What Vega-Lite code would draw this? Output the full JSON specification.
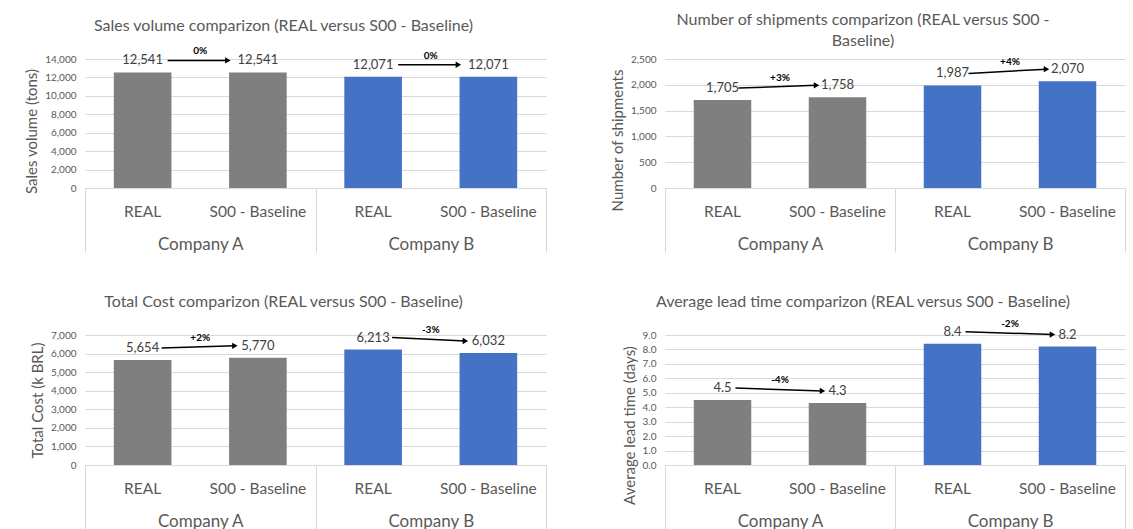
{
  "$schema": "https://vega.github.io/schema/vega-lite/v6.json",
  "background": "white",
  "padding": {"left": 24, "top": 12, "right": 0, "bottom": 0},
  "config": {
    "font": "Lato",
    "view": {"stroke": null},
    "title": {"fontSize": 16, "fontWeight": "normal", "color": "#595959", "anchor": "middle", "frame": "group", "dx": -32, "font": "Lato"},
    "axis": {"labelFont": "Lato", "titleFont": "Lato"},
    "axisY": {"titleFontSize": 15, "titleColor": "#595959", "titleFontWeight": "normal"}
  },
  "datasets": {
    "bars": [
      {"metric": "sales", "company": "Company A", "category": "REAL", "key": "Company A|REAL", "value": 12541},
      {"metric": "sales", "company": "Company A", "category": "S00 - Baseline", "key": "Company A|S00 - Baseline", "value": 12541},
      {"metric": "sales", "company": "Company B", "category": "REAL", "key": "Company B|REAL", "value": 12071},
      {"metric": "sales", "company": "Company B", "category": "S00 - Baseline", "key": "Company B|S00 - Baseline", "value": 12071},
      {"metric": "ship", "company": "Company A", "category": "REAL", "key": "Company A|REAL", "value": 1705},
      {"metric": "ship", "company": "Company A", "category": "S00 - Baseline", "key": "Company A|S00 - Baseline", "value": 1758},
      {"metric": "ship", "company": "Company B", "category": "REAL", "key": "Company B|REAL", "value": 1987},
      {"metric": "ship", "company": "Company B", "category": "S00 - Baseline", "key": "Company B|S00 - Baseline", "value": 2070},
      {"metric": "cost", "company": "Company A", "category": "REAL", "key": "Company A|REAL", "value": 5654},
      {"metric": "cost", "company": "Company A", "category": "S00 - Baseline", "key": "Company A|S00 - Baseline", "value": 5770},
      {"metric": "cost", "company": "Company B", "category": "REAL", "key": "Company B|REAL", "value": 6213},
      {"metric": "cost", "company": "Company B", "category": "S00 - Baseline", "key": "Company B|S00 - Baseline", "value": 6032},
      {"metric": "lead", "company": "Company A", "category": "REAL", "key": "Company A|REAL", "value": 4.5},
      {"metric": "lead", "company": "Company A", "category": "S00 - Baseline", "key": "Company A|S00 - Baseline", "value": 4.3},
      {"metric": "lead", "company": "Company B", "category": "REAL", "key": "Company B|REAL", "value": 8.4},
      {"metric": "lead", "company": "Company B", "category": "S00 - Baseline", "key": "Company B|S00 - Baseline", "value": 8.2}
    ],
    "arrows": [
      {"metric": "sales", "company": "Company A", "from": "Company A|REAL", "to": "Company A|S00 - Baseline", "v_from": 12541, "v_to": 12541, "pct": "0%"},
      {"metric": "sales", "company": "Company B", "from": "Company B|REAL", "to": "Company B|S00 - Baseline", "v_from": 12071, "v_to": 12071, "pct": "0%"},
      {"metric": "ship", "company": "Company A", "from": "Company A|REAL", "to": "Company A|S00 - Baseline", "v_from": 1705, "v_to": 1758, "pct": "+3%"},
      {"metric": "ship", "company": "Company B", "from": "Company B|REAL", "to": "Company B|S00 - Baseline", "v_from": 1987, "v_to": 2070, "pct": "+4%"},
      {"metric": "cost", "company": "Company A", "from": "Company A|REAL", "to": "Company A|S00 - Baseline", "v_from": 5654, "v_to": 5770, "pct": "+2%"},
      {"metric": "cost", "company": "Company B", "from": "Company B|REAL", "to": "Company B|S00 - Baseline", "v_from": 6213, "v_to": 6032, "pct": "-3%"},
      {"metric": "lead", "company": "Company A", "from": "Company A|REAL", "to": "Company A|S00 - Baseline", "v_from": 4.5, "v_to": 4.3, "pct": "-4%"},
      {"metric": "lead", "company": "Company B", "from": "Company B|REAL", "to": "Company B|S00 - Baseline", "v_from": 8.4, "v_to": 8.2, "pct": "-2%"}
    ]
  },
  "columns": 2,
  "bounds": "flush",
  "spacing": {"row": 147, "column": 119},
  "concat": [
    {
      "width": 461, "height": 129,
      "title": {"text": "Sales volume comparizon (REAL versus S00 - Baseline)", "offset": 12},
      "resolve": {"scale": {"x": "independent"}},
      "layer": [
        {
          "layer": [
            {
              "data": {"name": "bars"}, "transform": [{"filter": "datum.metric === 'sales'"}],
              "mark": {"type": "bar", "width": {"band": 0.5}},
              "encoding": {
                "x": {"field": "key", "type": "nominal", "scale": {"paddingInner": 0, "paddingOuter": 0},
                  "axis": {"title": null, "orient": "bottom", "ticks": false, "grid": false, "domainColor": "#d9d9d9", "labelExpr": "split(datum.value, '|')[1]", "labelFontSize": 15.5, "labelColor": "#595959", "labelPadding": 16, "labelAngle": 0}},
                "y": {"field": "value", "type": "quantitative", "scale": {"domain": [0, 14000], "nice": false},
                  "axis": {"title": "Sales volume (tons)", "values": [0, 2000, 4000, 6000, 8000, 10000, 12000, 14000], "format": ",.0f", "labelOverlap": false, "grid": true, "gridColor": "#d9d9d9", "domain": false, "ticks": false, "labelFontSize": 10, "labelColor": "#595959", "labelPadding": 9, "titleFontSize": 15, "titleColor": "#595959", "titleFontWeight": "normal", "titlePadding": 5, "titleY": 72}},
                "color": {"field": "company", "type": "nominal", "scale": {"domain": ["Company A", "Company B"], "range": ["#7f7f7f", "#4472c4"]}, "legend": null}
              }
            },
            {
              "data": {"name": "bars"}, "transform": [{"filter": "datum.metric === 'sales'"}],
              "mark": {"type": "text", "yOffset": -12, "baseline": "middle", "fontSize": 13, "color": "#404040"},
              "encoding": {
                "x": {"field": "key", "type": "nominal"},
                "y": {"field": "value", "type": "quantitative", "scale": {"domain": [0, 14000], "nice": false},
                  "axis": {"title": "Sales volume (tons)", "values": [0, 2000, 4000, 6000, 8000, 10000, 12000, 14000], "format": ",.0f", "labelOverlap": false, "grid": true, "gridColor": "#d9d9d9", "domain": false, "ticks": false, "labelFontSize": 10, "labelColor": "#595959", "labelPadding": 9, "titleFontSize": 15, "titleColor": "#595959", "titleFontWeight": "normal", "titlePadding": 5, "titleY": 72}},
                "text": {"field": "value", "type": "quantitative", "format": ",.0f"}
              }
            },
            {
              "data": {"name": "arrows"}, "transform": [{"filter": "datum.metric === 'sales'"}],
              "mark": {"type": "rule", "xOffset": 25, "x2Offset": -30, "yOffset": -12, "y2Offset": -12, "color": "black", "strokeWidth": 1.5},
              "encoding": {
                "x": {"field": "from", "type": "nominal"},
                "x2": {"field": "to"},
                "y": {"field": "v_from", "type": "quantitative", "scale": {"domain": [0, 14000], "nice": false},
                  "axis": {"title": "Sales volume (tons)", "values": [0, 2000, 4000, 6000, 8000, 10000, 12000, 14000], "format": ",.0f", "labelOverlap": false, "grid": true, "gridColor": "#d9d9d9", "domain": false, "ticks": false, "labelFontSize": 10, "labelColor": "#595959", "labelPadding": 9, "titleFontSize": 15, "titleColor": "#595959", "titleFontWeight": "normal", "titlePadding": 5, "titleY": 72}},
                "y2": {"field": "v_to"}
              }
            },
            {
              "data": {"name": "arrows"}, "transform": [{"filter": "datum.metric === 'sales'"}],
              "mark": {"type": "point", "shape": "triangle-right", "filled": true, "size": 40, "color": "black", "opacity": 1, "xOffset": -30, "yOffset": -12},
              "encoding": {
                "x": {"field": "to", "type": "nominal"},
                "y": {"field": "v_to", "type": "quantitative", "scale": {"domain": [0, 14000], "nice": false},
                  "axis": {"title": "Sales volume (tons)", "values": [0, 2000, 4000, 6000, 8000, 10000, 12000, 14000], "format": ",.0f", "labelOverlap": false, "grid": true, "gridColor": "#d9d9d9", "domain": false, "ticks": false, "labelFontSize": 10, "labelColor": "#595959", "labelPadding": 9, "titleFontSize": 15, "titleColor": "#595959", "titleFontWeight": "normal", "titlePadding": 5, "titleY": 72}}
              }
            }
          ]
        },
        {
          "data": {"name": "arrows"}, "transform": [{"filter": "datum.metric === 'sales'"}, {"fold": ["v_from", "v_to"], "as": ["k", "v"]}],
          "mark": {"type": "text", "fontWeight": "bold", "fontSize": 10, "color": "black", "yOffset": -21, "baseline": "middle"},
          "encoding": {
            "x": {"field": "company", "type": "nominal", "scale": {"paddingInner": 0, "paddingOuter": 0},
              "axis": {"title": null, "orient": "bottom", "domain": false, "ticks": true, "tickBand": "extent", "tickSize": 64, "tickColor": "#d9d9d9", "grid": false, "labelPadding": -16, "labelFontSize": 17, "labelColor": "#595959", "labelAngle": 0}},
            "y": {"aggregate": "mean", "field": "v", "type": "quantitative", "scale": {"domain": [0, 14000], "nice": false},
              "axis": {"title": "Sales volume (tons)", "values": [0, 2000, 4000, 6000, 8000, 10000, 12000, 14000], "format": ",.0f", "labelOverlap": false, "grid": true, "gridColor": "#d9d9d9", "domain": false, "ticks": false, "labelFontSize": 10, "labelColor": "#595959", "labelPadding": 9, "titleFontSize": 15, "titleColor": "#595959", "titleFontWeight": "normal", "titlePadding": 5, "titleY": 72}},
            "text": {"field": "pct", "type": "nominal"}
          }
        }
      ]
    },
    {
      "width": 460, "height": 129,
      "title": {"text": ["Number of shipments comparizon (REAL versus S00 -", "Baseline)"], "offset": 5, "lineHeight": 21},
      "resolve": {"scale": {"x": "independent"}},
      "layer": [
        {
          "layer": [
            {
              "data": {"name": "bars"}, "transform": [{"filter": "datum.metric === 'ship'"}],
              "mark": {"type": "bar", "width": {"band": 0.5}},
              "encoding": {
                "x": {"field": "key", "type": "nominal", "scale": {"paddingInner": 0, "paddingOuter": 0},
                  "axis": {"title": null, "orient": "bottom", "ticks": false, "grid": false, "domainColor": "#d9d9d9", "labelExpr": "split(datum.value, '|')[1]", "labelFontSize": 15.5, "labelColor": "#595959", "labelPadding": 16, "labelAngle": 0}},
                "y": {"field": "value", "type": "quantitative", "scale": {"domain": [0, 2500], "nice": false},
                  "axis": {"title": "Number of shipments", "values": [0, 500, 1000, 1500, 2000, 2500], "format": ",.0f", "labelOverlap": false, "grid": true, "gridColor": "#d9d9d9", "domain": false, "ticks": false, "labelFontSize": 10, "labelColor": "#595959", "labelPadding": 9, "titleFontSize": 15, "titleColor": "#595959", "titleFontWeight": "normal", "titlePadding": 5, "titleY": 81}},
                "color": {"field": "company", "type": "nominal", "scale": {"domain": ["Company A", "Company B"], "range": ["#7f7f7f", "#4472c4"]}, "legend": null}
              }
            },
            {
              "data": {"name": "bars"}, "transform": [{"filter": "datum.metric === 'ship'"}],
              "mark": {"type": "text", "yOffset": -12, "baseline": "middle", "fontSize": 13, "color": "#404040"},
              "encoding": {
                "x": {"field": "key", "type": "nominal"},
                "y": {"field": "value", "type": "quantitative", "scale": {"domain": [0, 2500], "nice": false},
                  "axis": {"title": "Number of shipments", "values": [0, 500, 1000, 1500, 2000, 2500], "format": ",.0f", "labelOverlap": false, "grid": true, "gridColor": "#d9d9d9", "domain": false, "ticks": false, "labelFontSize": 10, "labelColor": "#595959", "labelPadding": 9, "titleFontSize": 15, "titleColor": "#595959", "titleFontWeight": "normal", "titlePadding": 5, "titleY": 81}},
                "text": {"field": "value", "type": "quantitative", "format": ",.0f"}
              }
            },
            {
              "data": {"name": "arrows"}, "transform": [{"filter": "datum.metric === 'ship'"}],
              "mark": {"type": "rule", "xOffset": 16, "x2Offset": -21, "yOffset": -12, "y2Offset": -12, "color": "black", "strokeWidth": 1.5},
              "encoding": {
                "x": {"field": "from", "type": "nominal"},
                "x2": {"field": "to"},
                "y": {"field": "v_from", "type": "quantitative", "scale": {"domain": [0, 2500], "nice": false},
                  "axis": {"title": "Number of shipments", "values": [0, 500, 1000, 1500, 2000, 2500], "format": ",.0f", "labelOverlap": false, "grid": true, "gridColor": "#d9d9d9", "domain": false, "ticks": false, "labelFontSize": 10, "labelColor": "#595959", "labelPadding": 9, "titleFontSize": 15, "titleColor": "#595959", "titleFontWeight": "normal", "titlePadding": 5, "titleY": 81}},
                "y2": {"field": "v_to"}
              }
            },
            {
              "data": {"name": "arrows"}, "transform": [{"filter": "datum.metric === 'ship'"}],
              "mark": {"type": "point", "shape": "triangle-right", "filled": true, "size": 40, "color": "black", "opacity": 1, "xOffset": -21, "yOffset": -12},
              "encoding": {
                "x": {"field": "to", "type": "nominal"},
                "y": {"field": "v_to", "type": "quantitative", "scale": {"domain": [0, 2500], "nice": false},
                  "axis": {"title": "Number of shipments", "values": [0, 500, 1000, 1500, 2000, 2500], "format": ",.0f", "labelOverlap": false, "grid": true, "gridColor": "#d9d9d9", "domain": false, "ticks": false, "labelFontSize": 10, "labelColor": "#595959", "labelPadding": 9, "titleFontSize": 15, "titleColor": "#595959", "titleFontWeight": "normal", "titlePadding": 5, "titleY": 81}}
              }
            }
          ]
        },
        {
          "data": {"name": "arrows"}, "transform": [{"filter": "datum.metric === 'ship'"}, {"fold": ["v_from", "v_to"], "as": ["k", "v"]}],
          "mark": {"type": "text", "fontWeight": "bold", "fontSize": 10, "color": "black", "yOffset": -21, "baseline": "middle"},
          "encoding": {
            "x": {"field": "company", "type": "nominal", "scale": {"paddingInner": 0, "paddingOuter": 0},
              "axis": {"title": null, "orient": "bottom", "domain": false, "ticks": true, "tickBand": "extent", "tickSize": 64, "tickColor": "#d9d9d9", "grid": false, "labelPadding": -16, "labelFontSize": 17, "labelColor": "#595959", "labelAngle": 0}},
            "y": {"aggregate": "mean", "field": "v", "type": "quantitative", "scale": {"domain": [0, 2500], "nice": false},
              "axis": {"title": "Number of shipments", "values": [0, 500, 1000, 1500, 2000, 2500], "format": ",.0f", "labelOverlap": false, "grid": true, "gridColor": "#d9d9d9", "domain": false, "ticks": false, "labelFontSize": 10, "labelColor": "#595959", "labelPadding": 9, "titleFontSize": 15, "titleColor": "#595959", "titleFontWeight": "normal", "titlePadding": 5, "titleY": 81}},
            "text": {"field": "pct", "type": "nominal"}
          }
        }
      ]
    },
    {
      "width": 461, "height": 130,
      "title": {"text": "Total Cost comparizon (REAL versus S00 - Baseline)", "offset": 15},
      "resolve": {"scale": {"x": "independent"}},
      "layer": [
        {
          "layer": [
            {
              "data": {"name": "bars"}, "transform": [{"filter": "datum.metric === 'cost'"}],
              "mark": {"type": "bar", "width": {"band": 0.5}},
              "encoding": {
                "x": {"field": "key", "type": "nominal", "scale": {"paddingInner": 0, "paddingOuter": 0},
                  "axis": {"title": null, "orient": "bottom", "ticks": false, "grid": false, "domainColor": "#d9d9d9", "labelExpr": "split(datum.value, '|')[1]", "labelFontSize": 15.5, "labelColor": "#595959", "labelPadding": 16, "labelAngle": 0}},
                "y": {"field": "value", "type": "quantitative", "scale": {"domain": [0, 7000], "nice": false},
                  "axis": {"title": "Total Cost (k BRL)", "values": [0, 1000, 2000, 3000, 4000, 5000, 6000, 7000], "format": ",.0f", "labelOverlap": false, "grid": true, "gridColor": "#d9d9d9", "domain": false, "ticks": false, "labelFontSize": 10, "labelColor": "#595959", "labelPadding": 9, "titleFontSize": 15, "titleColor": "#595959", "titleFontWeight": "normal", "titlePadding": 5, "titleY": 65}},
                "color": {"field": "company", "type": "nominal", "scale": {"domain": ["Company A", "Company B"], "range": ["#7f7f7f", "#4472c4"]}, "legend": null}
              }
            },
            {
              "data": {"name": "bars"}, "transform": [{"filter": "datum.metric === 'cost'"}],
              "mark": {"type": "text", "yOffset": -12, "baseline": "middle", "fontSize": 13, "color": "#404040"},
              "encoding": {
                "x": {"field": "key", "type": "nominal"},
                "y": {"field": "value", "type": "quantitative", "scale": {"domain": [0, 7000], "nice": false},
                  "axis": {"title": "Total Cost (k BRL)", "values": [0, 1000, 2000, 3000, 4000, 5000, 6000, 7000], "format": ",.0f", "labelOverlap": false, "grid": true, "gridColor": "#d9d9d9", "domain": false, "ticks": false, "labelFontSize": 10, "labelColor": "#595959", "labelPadding": 9, "titleFontSize": 15, "titleColor": "#595959", "titleFontWeight": "normal", "titlePadding": 5, "titleY": 65}},
                "text": {"field": "value", "type": "quantitative", "format": ",.0f"}
              }
            },
            {
              "data": {"name": "arrows"}, "transform": [{"filter": "datum.metric === 'cost'"}],
              "mark": {"type": "rule", "xOffset": 19, "x2Offset": -23, "yOffset": -12, "y2Offset": -12, "color": "black", "strokeWidth": 1.5},
              "encoding": {
                "x": {"field": "from", "type": "nominal"},
                "x2": {"field": "to"},
                "y": {"field": "v_from", "type": "quantitative", "scale": {"domain": [0, 7000], "nice": false},
                  "axis": {"title": "Total Cost (k BRL)", "values": [0, 1000, 2000, 3000, 4000, 5000, 6000, 7000], "format": ",.0f", "labelOverlap": false, "grid": true, "gridColor": "#d9d9d9", "domain": false, "ticks": false, "labelFontSize": 10, "labelColor": "#595959", "labelPadding": 9, "titleFontSize": 15, "titleColor": "#595959", "titleFontWeight": "normal", "titlePadding": 5, "titleY": 65}},
                "y2": {"field": "v_to"}
              }
            },
            {
              "data": {"name": "arrows"}, "transform": [{"filter": "datum.metric === 'cost'"}],
              "mark": {"type": "point", "shape": "triangle-right", "filled": true, "size": 40, "color": "black", "opacity": 1, "xOffset": -23, "yOffset": -12},
              "encoding": {
                "x": {"field": "to", "type": "nominal"},
                "y": {"field": "v_to", "type": "quantitative", "scale": {"domain": [0, 7000], "nice": false},
                  "axis": {"title": "Total Cost (k BRL)", "values": [0, 1000, 2000, 3000, 4000, 5000, 6000, 7000], "format": ",.0f", "labelOverlap": false, "grid": true, "gridColor": "#d9d9d9", "domain": false, "ticks": false, "labelFontSize": 10, "labelColor": "#595959", "labelPadding": 9, "titleFontSize": 15, "titleColor": "#595959", "titleFontWeight": "normal", "titlePadding": 5, "titleY": 65}}
              }
            }
          ]
        },
        {
          "data": {"name": "arrows"}, "transform": [{"filter": "datum.metric === 'cost'"}, {"fold": ["v_from", "v_to"], "as": ["k", "v"]}],
          "mark": {"type": "text", "fontWeight": "bold", "fontSize": 10, "color": "black", "yOffset": -21, "baseline": "middle"},
          "encoding": {
            "x": {"field": "company", "type": "nominal", "scale": {"paddingInner": 0, "paddingOuter": 0},
              "axis": {"title": null, "orient": "bottom", "domain": false, "ticks": true, "tickBand": "extent", "tickSize": 64, "tickColor": "#d9d9d9", "grid": false, "labelPadding": -16, "labelFontSize": 17, "labelColor": "#595959", "labelAngle": 0}},
            "y": {"aggregate": "mean", "field": "v", "type": "quantitative", "scale": {"domain": [0, 7000], "nice": false},
              "axis": {"title": "Total Cost (k BRL)", "values": [0, 1000, 2000, 3000, 4000, 5000, 6000, 7000], "format": ",.0f", "labelOverlap": false, "grid": true, "gridColor": "#d9d9d9", "domain": false, "ticks": false, "labelFontSize": 10, "labelColor": "#595959", "labelPadding": 9, "titleFontSize": 15, "titleColor": "#595959", "titleFontWeight": "normal", "titlePadding": 5, "titleY": 65}},
            "text": {"field": "pct", "type": "nominal"}
          }
        }
      ]
    },
    {
      "width": 460, "height": 130,
      "title": {"text": "Average lead time comparizon (REAL versus S00 - Baseline)", "offset": 9},
      "resolve": {"scale": {"x": "independent"}},
      "layer": [
        {
          "layer": [
            {
              "data": {"name": "bars"}, "transform": [{"filter": "datum.metric === 'lead'"}],
              "mark": {"type": "bar", "width": {"band": 0.5}},
              "encoding": {
                "x": {"field": "key", "type": "nominal", "scale": {"paddingInner": 0, "paddingOuter": 0},
                  "axis": {"title": null, "orient": "bottom", "ticks": false, "grid": false, "domainColor": "#d9d9d9", "labelExpr": "split(datum.value, '|')[1]", "labelFontSize": 15.5, "labelColor": "#595959", "labelPadding": 16, "labelAngle": 0}},
                "y": {"field": "value", "type": "quantitative", "scale": {"domain": [0, 9], "nice": false},
                  "axis": {"title": "Average lead time (days)", "values": [0, 1, 2, 3, 4, 5, 6, 7, 8, 9], "format": ".1f", "labelOverlap": false, "grid": true, "gridColor": "#d9d9d9", "domain": false, "ticks": false, "labelFontSize": 10, "labelColor": "#595959", "labelPadding": 9, "titleFontSize": 15, "titleColor": "#595959", "titleFontWeight": "normal", "titlePadding": 5, "titleY": 90}},
                "color": {"field": "company", "type": "nominal", "scale": {"domain": ["Company A", "Company B"], "range": ["#7f7f7f", "#4472c4"]}, "legend": null}
              }
            },
            {
              "data": {"name": "bars"}, "transform": [{"filter": "datum.metric === 'lead'"}],
              "mark": {"type": "text", "yOffset": -12, "baseline": "middle", "fontSize": 13, "color": "#404040"},
              "encoding": {
                "x": {"field": "key", "type": "nominal"},
                "y": {"field": "value", "type": "quantitative", "scale": {"domain": [0, 9], "nice": false},
                  "axis": {"title": "Average lead time (days)", "values": [0, 1, 2, 3, 4, 5, 6, 7, 8, 9], "format": ".1f", "labelOverlap": false, "grid": true, "gridColor": "#d9d9d9", "domain": false, "ticks": false, "labelFontSize": 10, "labelColor": "#595959", "labelPadding": 9, "titleFontSize": 15, "titleColor": "#595959", "titleFontWeight": "normal", "titlePadding": 5, "titleY": 90}},
                "text": {"field": "value", "type": "quantitative", "format": ".1f"}
              }
            },
            {
              "data": {"name": "arrows"}, "transform": [{"filter": "datum.metric === 'lead'"}],
              "mark": {"type": "rule", "xOffset": 13, "x2Offset": -15, "yOffset": -12, "y2Offset": -12, "color": "black", "strokeWidth": 1.5},
              "encoding": {
                "x": {"field": "from", "type": "nominal"},
                "x2": {"field": "to"},
                "y": {"field": "v_from", "type": "quantitative", "scale": {"domain": [0, 9], "nice": false},
                  "axis": {"title": "Average lead time (days)", "values": [0, 1, 2, 3, 4, 5, 6, 7, 8, 9], "format": ".1f", "labelOverlap": false, "grid": true, "gridColor": "#d9d9d9", "domain": false, "ticks": false, "labelFontSize": 10, "labelColor": "#595959", "labelPadding": 9, "titleFontSize": 15, "titleColor": "#595959", "titleFontWeight": "normal", "titlePadding": 5, "titleY": 90}},
                "y2": {"field": "v_to"}
              }
            },
            {
              "data": {"name": "arrows"}, "transform": [{"filter": "datum.metric === 'lead'"}],
              "mark": {"type": "point", "shape": "triangle-right", "filled": true, "size": 40, "color": "black", "opacity": 1, "xOffset": -15, "yOffset": -12},
              "encoding": {
                "x": {"field": "to", "type": "nominal"},
                "y": {"field": "v_to", "type": "quantitative", "scale": {"domain": [0, 9], "nice": false},
                  "axis": {"title": "Average lead time (days)", "values": [0, 1, 2, 3, 4, 5, 6, 7, 8, 9], "format": ".1f", "labelOverlap": false, "grid": true, "gridColor": "#d9d9d9", "domain": false, "ticks": false, "labelFontSize": 10, "labelColor": "#595959", "labelPadding": 9, "titleFontSize": 15, "titleColor": "#595959", "titleFontWeight": "normal", "titlePadding": 5, "titleY": 90}}
              }
            }
          ]
        },
        {
          "data": {"name": "arrows"}, "transform": [{"filter": "datum.metric === 'lead'"}, {"fold": ["v_from", "v_to"], "as": ["k", "v"]}],
          "mark": {"type": "text", "fontWeight": "bold", "fontSize": 10, "color": "black", "yOffset": -21, "baseline": "middle"},
          "encoding": {
            "x": {"field": "company", "type": "nominal", "scale": {"paddingInner": 0, "paddingOuter": 0},
              "axis": {"title": null, "orient": "bottom", "domain": false, "ticks": true, "tickBand": "extent", "tickSize": 64, "tickColor": "#d9d9d9", "grid": false, "labelPadding": -16, "labelFontSize": 17, "labelColor": "#595959", "labelAngle": 0}},
            "y": {"aggregate": "mean", "field": "v", "type": "quantitative", "scale": {"domain": [0, 9], "nice": false},
              "axis": {"title": "Average lead time (days)", "values": [0, 1, 2, 3, 4, 5, 6, 7, 8, 9], "format": ".1f", "labelOverlap": false, "grid": true, "gridColor": "#d9d9d9", "domain": false, "ticks": false, "labelFontSize": 10, "labelColor": "#595959", "labelPadding": 9, "titleFontSize": 15, "titleColor": "#595959", "titleFontWeight": "normal", "titlePadding": 5, "titleY": 90}},
            "text": {"field": "pct", "type": "nominal"}
          }
        }
      ]
    }
  ]
}
